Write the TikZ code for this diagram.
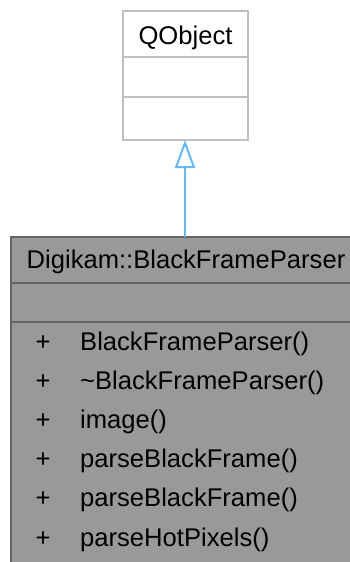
\documentclass[tikz,border=0pt]{standalone}
\usepackage{fontspec}
\setmainfont{Liberation Sans}
\usetikzlibrary{arrows.meta}
\definecolor{boxline}{HTML}{BFBFBF}
\definecolor{clsfill}{HTML}{999999}
\definecolor{clsline}{HTML}{666666}
\definecolor{inherit}{HTML}{63B8FF}

\begin{document}
\begin{tikzpicture}[x=1pt,y=-1pt,font=\fontsize{25.6}{30}\selectfont]
				\useasboundingbox (0,0) rectangle (350,562);
				% base class
				\draw[boxline, line width=2pt, fill=white] (123,11) rectangle (248,140);
				\draw[boxline, line width=2pt] (123,57) -- (248,57);
				\draw[boxline, line width=2pt] (123,97) -- (248,97);
				\node[anchor=base] (qobj) at (185.5,44) {QObject};
				\coordinate (qobjbot) at (185,140);
				% derived class
				\draw[clsline, line width=2pt, fill=clsfill] (11,237) rectangle (360,575);
				\draw[clsline, line width=2pt] (11,283) -- (360,283);
				\draw[clsline, line width=2pt] (11,322) -- (360,322);
				\node[anchor=base] (bfp) at (186,268) {Digikam::BlackFrameParser};
				\coordinate (bfptop) at (185,237);
				\foreach \name [count=\i from 0] in {BlackFrameParser(), \textasciitilde BlackFrameParser(), image(), parseBlackFrame(), parseBlackFrame(), parseHotPixels()} {
					\node[anchor=base] (plus\i) at (43,350+39.2*\i) {+};
					\node[anchor=base west, inner sep=0pt] (m\i) at (80,350+39.2*\i) {\name};
				}
				% inheritance
				\draw[inherit, line width=2pt, -{Triangle[open, length=28pt, width=20pt]}] (bfptop) -- (qobjbot);
			\end{tikzpicture}
\end{document}
